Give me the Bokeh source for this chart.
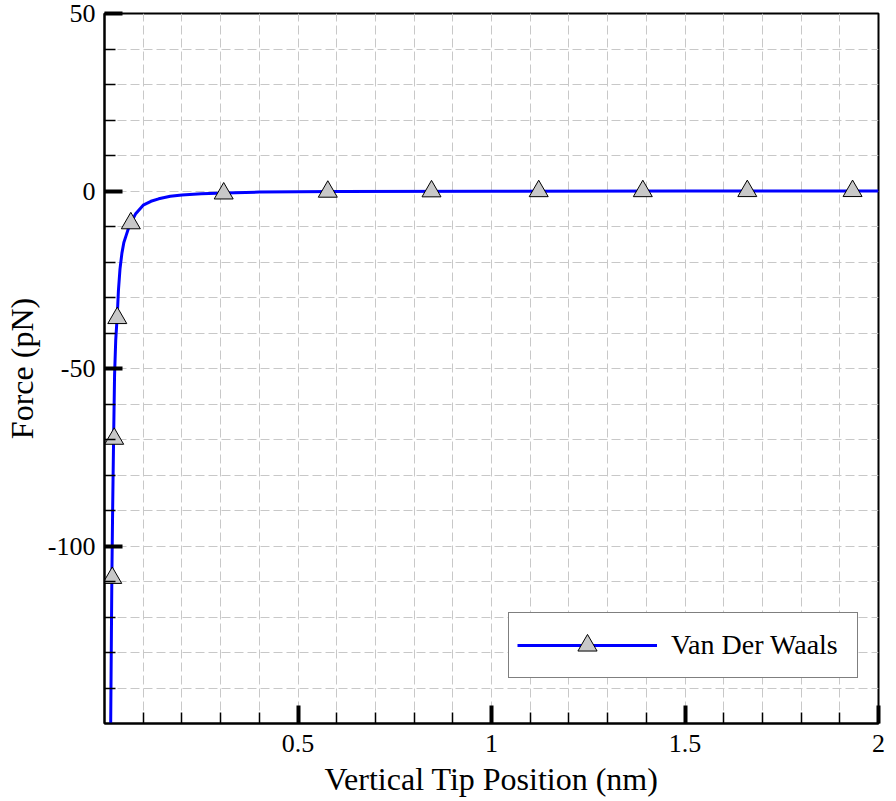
from bokeh.plotting import figure
from bokeh.models import Range1d, FixedTicker, Legend, LegendItem
from bokeh.embed import file_html
from bokeh.resources import INLINE

# Curve (Van der Waals force vs tip position)
curve_x = [0.016, 0.019, 0.021, 0.0235, 0.026, 0.029, 0.033, 0.036, 0.040, 0.045,
           0.050, 0.056, 0.062, 0.068, 0.080, 0.10, 0.12, 0.14, 0.17, 0.20,
           0.25, 0.31, 0.40, 0.60, 1.0, 1.5, 2.0]
curve_y = [-150, -109, -90, -70, -52, -42, -35, -28, -22, -17.5,
           -14.5, -12.5, -10.5, -9.0, -6.5, -4.0, -2.9, -2.2, -1.5, -1.1,
           -0.8, -0.55, -0.3, -0.15, -0.06, -0.03, -0.02]

# Marker symbols along the curve
marker_x = [0.020, 0.025, 0.033, 0.068, 0.308, 0.577, 0.845, 1.122, 1.391, 1.661, 1.933]
marker_y = [-109, -69.8, -35.8, -9.1, -0.7, -0.2, -0.1, -0.05, -0.05, -0.03, -0.02]

series_label = "Van Der Waals"

x_ticks = [0.5, 1, 1.5, 2]
x_tick_labels = ["0.5", "1", "1.5", "2"]
x_minor = [0.1, 0.2, 0.3, 0.4, 0.6, 0.7, 0.8, 0.9, 1.1, 1.2, 1.3, 1.4,
           1.6, 1.7, 1.8, 1.9]
y_ticks = [-100, -50, 0, 50]
y_tick_labels = ["-100", "-50", "0", "50"]
y_minor = [-140, -130, -120, -110, -90, -80, -70, -60, -40, -30, -20, -10,
           10, 20, 30, 40]

FONT = "Liberation Serif"

p = figure(width=888, height=799, output_backend="svg", toolbar_location=None,
           x_range=Range1d(0, 2), y_range=Range1d(-150, 50),
           min_border_top=13, min_border_right=10, min_border_left=98,
           min_border_bottom=10)

p.outline_line_color = "black"
p.outline_line_width = 2
p.outline_line_alpha = 1

p.xaxis.ticker = FixedTicker(ticks=x_ticks, minor_ticks=x_minor)
p.yaxis.ticker = FixedTicker(ticks=y_ticks, minor_ticks=y_minor)
p.xaxis.major_label_overrides = dict(zip(x_ticks, x_tick_labels))
p.yaxis.major_label_overrides = dict(zip(y_ticks, y_tick_labels))

for ax in (p.xaxis[0], p.yaxis[0]):
    ax.axis_line_color = "black"
    ax.axis_line_width = 2
    ax.major_tick_in = 18
    ax.major_tick_out = 0
    ax.major_tick_line_width = 4
    ax.major_tick_line_color = "black"
    ax.minor_tick_in = 11
    ax.minor_tick_out = 0
    ax.minor_tick_line_width = 1.5
    ax.minor_tick_line_color = "black"
    ax.major_label_text_font = FONT
    ax.major_label_text_font_size = "26px"
    ax.major_label_text_color = "black"
    ax.axis_label_text_font = FONT
    ax.axis_label_text_font_size = "32px"
    ax.axis_label_text_font_style = "normal"
    ax.axis_label_text_color = "black"

p.xaxis.axis_label = "Vertical Tip Position (nm)"
p.yaxis.axis_label = "Force (pN)"
p.xaxis.major_label_standoff = 11
p.yaxis.major_label_standoff = 9
p.xaxis.axis_label_standoff = 6
p.yaxis.axis_label_standoff = 5

for g in (p.xgrid[0], p.ygrid[0]):
    g.grid_line_color = "#c8c8c8"
    g.grid_line_dash = "9 4"
    g.grid_line_width = 1
    g.minor_grid_line_color = "#c8c8c8"
    g.minor_grid_line_dash = "9 4"
    g.minor_grid_line_width = 1

line_r = p.line(curve_x, curve_y, line_color="#0000ff", line_width=3)
mark_r = p.scatter(marker_x, marker_y, marker="triangle", size=19,
                   fill_color="#c8c8c8", line_color="black", line_width=1)

legend = Legend(items=[LegendItem(label=series_label, renderers=[line_r, mark_r])],
                location=(404, 45))
legend.label_text_font = FONT
legend.label_text_font_size = "28px"
legend.label_text_color = "black"
legend.glyph_width = 140
legend.glyph_height = 48
legend.label_standoff = 14
legend.label_width = 178
legend.padding = 8
legend.margin = 0
legend.border_line_color = "black"
legend.border_line_width = 1.5
legend.background_fill_color = "white"
legend.background_fill_alpha = 1
p.add_layout(legend, "center")

open("out.html", "w").write(file_html(p, INLINE))
